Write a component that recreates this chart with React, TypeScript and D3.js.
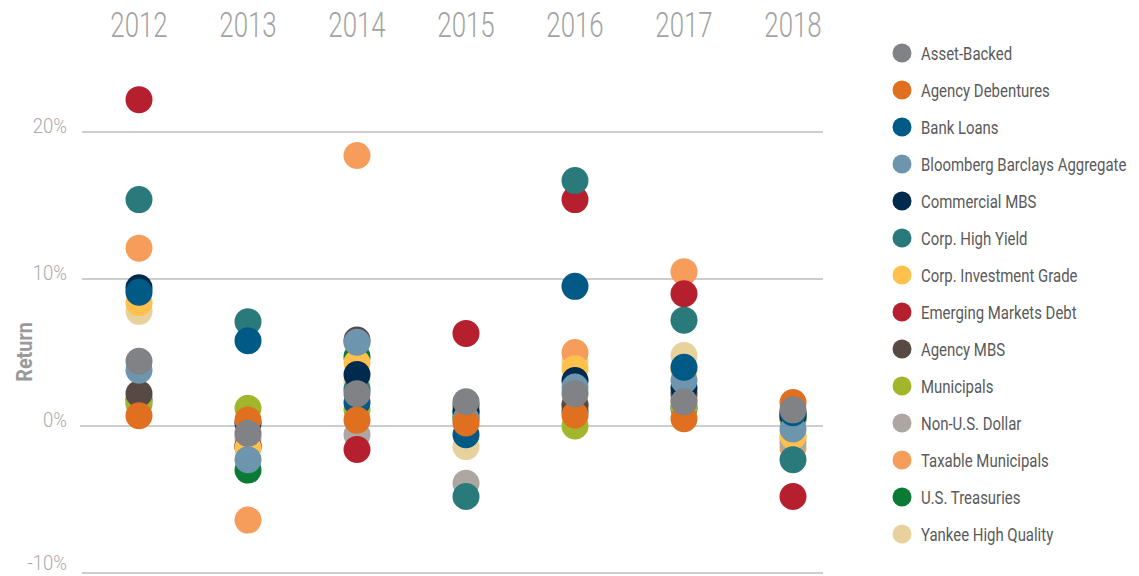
import { useEffect, useRef } from "react";
import * as d3 from "d3";

const years = ["2012", "2013", "2014", "2015", "2016", "2017", "2018"];
const yTicks = [-10, 0, 10, 20];

const assetBacked = [4.4, -0.5, 2.2, 1.65, 2.2, 1.65, 1.1];
const agencyDebentures = [0.7, 0.4, 0.4, 0.2, 0.75, 0.5, 1.6];
const bankLoans = [9.1, 5.8, 1.6, -0.6, 9.5, 4.0, 0.9];
const bloombergAgg = [3.8, -2.3, 5.7, 0.5, 2.65, 3.1, -0.2];
const commercialMbs = [9.4, 0.2, 3.5, 1.0, 3.1, 2.6, 0.7];
const corpHighYield = [15.4, 7.1, 2.5, -4.8, 16.7, 7.2, -2.3];
const corpInvGrade = [8.4, -1.5, 4.3, 0.9, 3.9, 3.8, -0.7];
const emergingMarkets = [22.2, -1.4, -1.6, 6.3, 15.4, 9.0, -4.8];
const agencyMbs = [2.2, -1.4, 5.85, 1.4, 1.4, 2.2, 0.8];
const municipals = [1.6, 1.2, 1.1, 0.5, 0.0, 1.3, 0.5];
const nonUsDollar = [1.5, -0.8, -0.6, -3.9, 1.5, 1.8, -1.1];
const taxableMunis = [12.1, -6.4, 18.4, 0.5, 5.0, 10.5, -1.5];
const treasuries = [1.8, -3.0, 4.7, 0.8, 1.0, 1.2, 0.5];
const yankee = [7.8, -1.2, 3.0, -1.4, 4.4, 4.8, -0.8];

const seriesNames = [
  "Asset-Backed",
  "Agency Debentures",
  "Bank Loans",
  "Bloomberg Barclays Aggregate",
  "Commercial MBS",
  "Corp. High Yield",
  "Corp. Investment Grade",
  "Emerging Markets Debt",
  "Agency MBS",
  "Municipals",
  "Non-U.S. Dollar",
  "Taxable Municipals",
  "U.S. Treasuries",
  "Yankee High Quality",
];
const seriesValues = [
  assetBacked, agencyDebentures, bankLoans, bloombergAgg, commercialMbs,
  corpHighYield, corpInvGrade, emergingMarkets, agencyMbs, municipals,
  nonUsDollar, taxableMunis, treasuries, yankee,
];
const seriesColors = [
  "#808285", "#e0701f", "#005a85", "#6d95ae", "#002a4e", "#2b7a7b", "#ffc04c",
  "#b51f2e", "#574944", "#a2b62b", "#aea6a3", "#f79d5c", "#0a7a34", "#e8d19d",
];

// no condensed face installed, so regular faces get squeezed horizontally
const FONT = "Roboto, 'Liberation Sans', sans-serif";

export default function App() {
  const svgRef = useRef<SVGSVGElement>(null);

  useEffect(() => {
    if (!svgRef.current) return;
    const svg = d3.select(svgRef.current);
    svg.selectAll("*").remove();

    const x = d3.scalePoint().domain(years).range([139, 793]);
    const y = d3.scaleLinear().domain([-10, 20]).range([573, 132]);

    // grid lines
    svg.append("g")
      .selectAll("line")
      .data(yTicks)
      .enter()
      .append("line")
      .attr("x1", d => (d === 0 ? 80 : 82))
      .attr("x2", 823)
      .attr("y1", d => y(d))
      .attr("y2", d => y(d))
      .attr("stroke", "#bdbdbd")
      .attr("stroke-width", 1.3);

    // tick labels
    svg.append("g")
      .selectAll("text")
      .data(yTicks)
      .enter()
      .append("text")
      .attr("transform", d => `translate(67,${Math.min(y(d) + 1, 570)}) scale(0.88,1)`)
      .attr("text-anchor", "end")
      .attr("font-family", FONT)
      .attr("font-weight", 300)
      .attr("font-size", 21)
      .attr("fill", "#a9a9a9")
      .text(d => `${d}%`);

    // year labels
    svg.append("g")
      .selectAll("text")
      .data(years)
      .enter()
      .append("text")
      .attr("transform", d => `translate(${x(d)},37) scale(0.74,1)`)
      .attr("text-anchor", "middle")
      .attr("font-family", FONT)
      .attr("font-weight", 300)
      .attr("font-size", 35)
      .attr("fill", "#a3a3a3")
      .text(d => d);

    // axis title
    svg.append("text")
      .attr("transform", "translate(32,352) rotate(-90) scale(0.9,1)")
      .attr("text-anchor", "middle")
      .attr("font-family", FONT)
      .attr("font-size", 22)
      .attr("font-weight", "bold")
      .attr("fill", "#9a9a9a")
      .text("Return");

    // dots, drawn last-to-first so Asset-Backed lands on top
    const order = d3.range(seriesNames.length).reverse();
    order.forEach(i => {
      svg.append("g")
        .selectAll("circle")
        .data(seriesValues[i])
        .enter()
        .append("circle")
        .attr("cx", (_, j) => x(years[j]) as number)
        .attr("cy", d => y(d))
        .attr("r", 13.5)
        .attr("fill", seriesColors[i]);
    });

    // legend
    const ly = d3.scaleLinear().domain([0, 1]).range([53, 90]);
    const legend = svg.append("g")
      .selectAll("g")
      .data(seriesNames)
      .enter()
      .append("g")
      .attr("transform", (_, i) => `translate(902,${ly(i)})`);
    legend.append("circle")
      .attr("r", 9.5)
      .attr("fill", (_, i) => seriesColors[i]);
    legend.append("text")
      .attr("transform", "translate(19,6.5) scale(0.83,1)")
      .attr("font-family", FONT)
      .attr("font-size", 18)
      .attr("fill", "#5a5a5a")
      .text(d => d);
  }, []);

  return (
    <svg ref={svgRef} width={1139} height={576} style={{ position: "absolute", left: 0, top: 0 }} />
  );
}
